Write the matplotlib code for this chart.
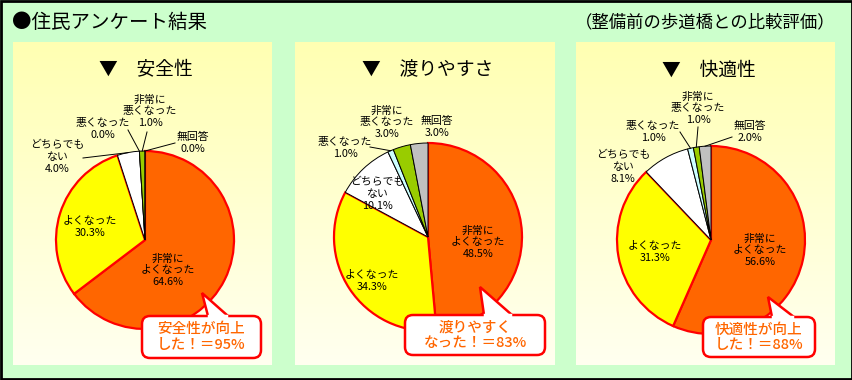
import numpy as np
import matplotlib
matplotlib.use('Agg')
import matplotlib.pyplot as plt
from matplotlib.patches import Rectangle, FancyBboxPatch, Polygon

plt.rcParams['font.family'] = ['Noto Sans CJK JP', 'DejaVu Sans']

W, H = 853, 380

# データ（住民アンケート）
categories = ['非常に\nよくなった', 'よくなった', 'どちらでも\nない', '悪くなった', '非常に\n悪くなった', '無回答']
safety = [64.6, 30.3, 4.0, 0.0, 1.0, 0.0]
crossing = [48.5, 34.3, 10.1, 1.0, 3.0, 3.0]
comfort = [56.6, 31.3, 8.1, 1.0, 1.0, 2.0]
titles = ['安全性', '渡りやすさ', '快適性']
callouts = ['安全性が向上\nした！＝95%', '渡りやすく\nなった！＝83%', '快適性が向上\nした！＝88%']
series = [safety, crossing, comfort]

colors = ['#FF6600', '#FFFF00', '#FFFFFF', '#CCFFFF', '#99CC00', '#C0C0C0']

# レイアウト（画像座標 px, y は下向き）
panels = [(13, 272), (295, 555), (576, 835)]
centers = [(145, 240), (428, 237), (711, 240)]
radii = [89, 94, 94]
label_off = [
    [(23, 30), (-55, -13), (-88, -83), (-42, -111), (5, -129), (48, -97)],
    [(50, 5), (-56, 44), (-51, -43), (-83, -89), (-41, -115), (9, -110)],
    [(49, 10), (-56, 12), (-88, -73), (-58, -108), (-13, -132), (39, -108)],
]
leaders = [
    {2: (-62, -82), 3: (-17, -110), 4: (2, -108), 5: (30, -97)},
    {3: (-58, -90)},
    {3: (-31, -108), 4: (-13, -113), 5: (21, -103)},
]
# 吹き出し: 箱 (x0, x1, y0, y1), 先端, 根元 x
boxes = [(142, 261, 316, 358), (405, 545, 315, 355), (703, 815, 317, 357)]
tips = [(202, 293), (480, 287), (768, 297)]
bases = [(208, 228), (484, 512), (772, 794)]


def Y(y):
    return H - y


fig = plt.figure(figsize=(W / 100, H / 100), dpi=100)
ax = fig.add_axes([0, 0, 1, 1])
fig.patch.set_facecolor('#CCFFCC')
ax.set_facecolor('#CCFFCC')

# 見出し
ax.text(12, Y(22), '●住民アンケート結果', fontsize=14, ha='left', va='center')
ax.text(836, Y(22), '（整備前の歩道橋との比較評価）', fontsize=12.5, ha='right', va='center')

grad = np.linspace(0, 1, 100).reshape(-1, 1)
grad_img = np.dstack([np.ones_like(grad), np.ones_like(grad), 0.70 + 0.24 * grad])

for i, vals in enumerate(series):
    x0, x1 = panels[i]
    ax.imshow(grad_img, extent=(x0, x1, Y(365), Y(42)), origin='upper', aspect='auto', zorder=0)

    cx, cy = centers[i]
    r = radii[i]
    wedges, _ = ax.pie(vals, colors=colors, startangle=90, counterclock=False,
                       radius=r, center=(cx, Y(cy)), normalize=True)
    for j, w in enumerate(wedges):
        if j < 2:
            w.set_edgecolor('#FF0000')
            w.set_linewidth(1.6)
        else:
            w.set_edgecolor('black')
            w.set_linewidth(0.7)
        w.set_zorder(2 + j * 0.01 if j < 2 else 2.1)

    # ラベル
    for j, cat in enumerate(categories):
        dx, dy = label_off[i][j]
        ax.text(cx + dx, Y(cy + dy), f'{cat}\n{vals[j]:.1f}%', fontsize=7.8,
                ha='center', va='center', linespacing=1.2, zorder=5)

    # 引出線
    for j, (sx, sy) in leaders[i].items():
        w = wedges[j]
        mid = np.deg2rad((w.theta1 + w.theta2) / 2)
        ex, ey = cx + r * np.cos(mid), Y(cy) + r * np.sin(mid)
        ax.plot([cx + sx, ex], [Y(cy + sy), ey], color='black', lw=0.7, zorder=4)

    # タイトル
    ax.text((x0 + x1) / 2 + 3, Y(70), '▼　' + titles[i], fontsize=13.5, ha='center', va='center')

    # 吹き出し
    bx0, bx1, by0, by1 = boxes[i]
    ax.add_patch(FancyBboxPatch((bx0, Y(by1)), bx1 - bx0, by1 - by0,
                                boxstyle='round,pad=0,rounding_size=8',
                                facecolor='white', edgecolor='#FF0000', lw=1.8, zorder=6))
    tx, ty = tips[i]
    bl, br = bases[i]
    ax.add_patch(Polygon([(bl, Y(by0)), (tx, Y(ty)), (br, Y(by0))], closed=False,
                         facecolor='white', edgecolor='#FF0000', lw=1.8, zorder=7))
    ax.plot([bl + 1.5, br - 1.5], [Y(by0), Y(by0)], color='white', lw=2.5, zorder=8)
    ax.text((bx0 + bx1) / 2, Y((by0 + by1) / 2), callouts[i], fontsize=10.5, fontweight='medium',
            color='#FF6600', ha='center', va='center', linespacing=1.1, zorder=9)

# 外枠
ax.add_patch(Rectangle((1, 1), W - 2, H - 2, fill=False, edgecolor='black', lw=2, zorder=10))

ax.set_xlim(0, W)
ax.set_ylim(0, H)
ax.axis('off')
fig.savefig('out.png', dpi=100, facecolor=fig.get_facecolor())
